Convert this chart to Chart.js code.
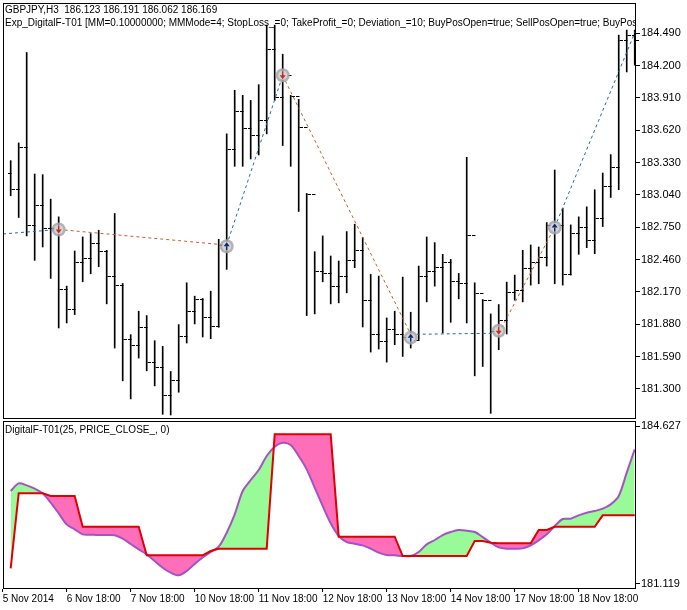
<!DOCTYPE html>
<html><head><meta charset="utf-8">
<script src="https://cdn.jsdelivr.net/npm/chart.js@4.4.1/dist/chart.umd.min.js"></script>
<style>
html,body{margin:0;padding:0;background:#fff;width:687px;height:610px;overflow:hidden}
#c1{position:absolute;left:0;top:0}
#c2{position:absolute;left:0;top:418px}
</style></head><body>
<canvas id="c1" width="687" height="419"></canvas>
<canvas id="c2" width="687" height="192"></canvas>
<script>
const opens=[183.239,183.092,183.470,182.771,182.948,182.741,182.741,182.192,182.021,182.438,
182.471,182.609,182.537,182.309,182.231,181.751,181.697,181.853,181.541,181.499,
181.247,181.382,181.772,181.997,182.108,181.946,181.868,182.591,183.452,183.788,
183.641,183.578,183.707,184.352,183.917,184.112,183.923,183.647,183.047,182.357,
182.342,182.222,182.312,182.453,182.543,182.102,181.796,181.733,181.841,181.793,
181.763,181.742,182.312,182.357,182.393,182.441,182.267,182.252,182.678,182.162,
182.096,181.817,181.922,182.171,182.186,182.381,182.441,182.486,182.771,182.771,
182.327,182.696,182.753,182.633,182.837,183.116,183.293,184.427,184.472];
const highs=[183.347,183.506,184.316,183.227,183.221,183.002,182.843,182.222,182.537,182.663,
182.693,182.723,182.543,182.873,182.246,181.787,181.997,181.958,181.733,181.682,
181.457,181.877,182.252,182.132,182.111,182.177,182.642,183.587,183.977,183.932,
183.887,184.028,184.562,184.562,184.301,183.932,183.896,183.053,182.531,182.672,
182.492,182.447,182.711,182.777,182.657,182.327,182.312,181.937,181.997,182.303,
181.988,182.402,182.663,182.612,182.507,182.462,182.336,183.377,182.252,182.102,
181.973,182.057,182.258,182.321,182.543,182.591,182.573,182.792,183.263,182.921,
182.771,182.843,182.933,183.086,183.236,183.401,184.472,184.517,184.517];
const lows=[183.032,182.837,182.672,182.453,182.573,182.291,181.847,181.892,181.967,182.261,
182.333,182.396,182.063,181.667,181.373,181.211,181.577,181.463,181.328,181.073,
181.067,181.271,181.712,181.883,181.766,181.751,181.853,182.372,183.296,183.296,
183.362,183.398,183.587,183.887,183.482,183.296,182.891,181.958,181.973,182.261,
182.063,182.072,182.162,182.387,181.856,181.631,181.658,181.541,181.697,181.592,
181.667,181.742,182.081,182.222,181.802,181.898,182.108,181.892,181.418,181.502,
181.082,181.652,181.793,182.096,182.081,182.231,182.243,182.402,182.243,182.231,
182.321,182.507,182.567,182.513,182.756,183.017,183.086,184.142,184.202];
const closes=[183.092,183.470,182.771,182.948,182.741,182.741,182.192,182.021,182.438,182.471,
182.609,182.537,182.309,182.231,181.751,181.697,181.853,181.541,181.499,181.247,
181.382,181.772,181.997,182.108,181.946,181.868,182.591,183.452,183.788,183.641,
183.578,183.707,184.352,183.917,184.112,183.923,183.647,183.047,182.357,182.342,
182.222,182.312,182.453,182.543,182.102,181.796,181.733,181.841,181.793,181.763,
181.742,182.312,182.357,182.393,182.441,182.267,182.252,182.678,182.162,182.096,
181.817,181.922,182.171,182.186,182.381,182.441,182.486,182.771,182.771,182.327,
182.696,182.753,182.633,182.837,183.116,183.293,184.427,184.472,184.427];
const digital=[183.181,183.351,183.307,183.233,183.129,182.921,182.684,182.439,182.328,182.217,
182.210,182.202,182.202,182.195,182.120,182.002,181.883,181.772,181.624,181.475,
181.364,181.305,181.401,181.557,181.705,181.824,181.942,182.254,182.662,183.181,
183.426,183.648,183.960,184.167,184.256,184.204,183.960,183.663,183.255,182.847,
182.462,182.180,182.046,182.009,181.972,181.898,181.809,181.757,181.750,181.735,
181.735,181.824,181.994,182.091,182.202,182.269,182.313,182.298,182.269,182.157,
182.031,181.928,181.898,181.898,181.905,181.972,182.083,182.217,182.402,182.558,
182.565,182.640,182.699,182.736,182.788,182.884,183.070,183.589,184.108];
const signal=[181.460,183.129,183.129,183.129,183.129,183.070,183.070,183.070,183.070,
182.387,182.387,182.387,182.387,182.387,182.387,182.387,182.387,
181.750,181.750,181.750,181.750,181.750,181.750,181.750,181.750,181.846,
181.898,181.898,181.898,181.898,181.898,181.898,181.898,
184.442,184.442,184.442,184.442,184.442,184.442,184.442,184.442,
182.165,182.165,182.165,182.165,182.165,182.165,182.165,182.165,
181.735,181.735,181.735,181.735,181.735,181.735,181.735,181.735,181.735,
182.068,182.068,182.031,182.017,182.017,182.017,182.017,182.017,
182.313,182.313,182.387,182.387,182.387,182.387,182.387,182.387,
182.640,182.640,182.640,182.640,182.640];
const sigBars=[6,27,34,50,61,68];
const sigPrices=[182.730,182.580,184.113,181.760,181.822,182.747];
const sigTypes=['sell','buy','sell','buy','sell','buy'];
const tradeX=[-0.96,6,27,34,50,61,68,78.16];
const tradeY=[182.69,182.73,182.59,184.11,181.79,181.80,182.75,184.52];
const tradeType=['buy','sell','buy','sell','buy','sell','buy'];
const priceTicks=[184.490,184.200,183.910,183.620,183.330,183.040,182.750,182.460,182.170,181.880,181.590,181.300];
const indTicks=[181.119,184.627];
const dateTickPos=[-1,7,15,23,31,39,47,55,63,71];
const dateLabels=['5 Nov 2014','6 Nov 18:00','7 Nov 18:00','10 Nov 18:00','11 Nov 18:00','12 Nov 18:00','13 Nov 18:00','14 Nov 18:00','17 Nov 18:00','18 Nov 18:00'];
const header1='GBPJPY,H3  186.123 186.191 186.062 186.169';
const header2='Exp_DigitalF-T01 [MM=0.10000000; MMMode=4; StopLoss_=0; TakeProfit_=0; Deviation_=10; BuyPosOpen=true; SellPosOpen=true; BuyPosClose=true; SellPosClose=true]';
const indTitle='DigitalF-T01(25, PRICE_CLOSE_, 0)';

const FAM='"Liberation Sans", Arial, sans-serif';
const FONT='10px '+FAM;
const XMIN=-0.96, XMAX=78.16;
const BLUE='#1f6f9a', RED='#d0582c';
function noPad(s){s.paddingTop=0;s.paddingBottom=0;s.paddingLeft=0;s.paddingRight=0;}

const frame={id:'frame',afterDraw(c){const a=c.chartArea,x=c.ctx;x.save();x.strokeStyle='#000';x.lineWidth=1;
x.strokeRect(Math.round(a.left)+0.5,Math.round(a.top)+0.5,Math.round(a.right-a.left)-1,Math.round(a.bottom-a.top)-1);x.restore();}};

const ohlc={id:'ohlc',afterDatasetsDraw(c){const x=c.ctx,sx=c.scales.x,sy=c.scales.y;x.save();x.strokeStyle='#000';x.lineWidth=1;
for(let i=0;i<closes.length;i++){const px=Math.round(sx.getPixelForValue(i))+0.5;
const yo=Math.round(sy.getPixelForValue(opens[i]))+0.5,yc=Math.round(sy.getPixelForValue(closes[i]))+0.5;
x.beginPath();x.moveTo(px-3.5,yo);x.lineTo(px,yo);x.moveTo(px,yc);x.lineTo(px+3.5,yc);x.stroke();}
for(let k=0;k<sigBars.length;k++){const px=sx.getPixelForValue(sigBars[k]),py=sy.getPixelForValue(sigPrices[k]);
x.beginPath();x.arc(px,py,7,0,Math.PI*2);x.fillStyle='rgba(165,165,170,0.85)';x.fill();
x.beginPath();x.arc(px,py,4.5,0,Math.PI*2);x.fillStyle='rgba(215,215,220,0.95)';x.fill();
const col=sigTypes[k]==='sell'?'#c0301c':'#0a2a66';x.fillStyle=col;x.strokeStyle=col;x.lineWidth=1.5;
x.beginPath();
if(sigTypes[k]==='sell'){x.moveTo(px-3,py);x.lineTo(px+3,py);x.lineTo(px,py+4);x.closePath();x.fill();x.beginPath();x.moveTo(px,py-4);x.lineTo(px,py+1);x.stroke();}
else{x.moveTo(px-3,py);x.lineTo(px+3,py);x.lineTo(px,py-4);x.closePath();x.fill();x.beginPath();x.moveTo(px,py);x.lineTo(px,py+4);x.stroke();}
}
x.restore();
x.save();x.fillStyle='#000';x.font=FONT;x.textBaseline='middle';x.textAlign='left';
const a=c.chartArea;x.beginPath();x.rect(a.left+1,a.top+1,a.right-a.left-2,40);x.clip();
x.fillText(header1,5,10);x.fillText(header2,5,23);x.restore();}};

const tradeSets=[];
for(let k=0;k<tradeType.length;k++){tradeSets.push({type:'line',data:[{x:tradeX[k],y:tradeY[k]},{x:tradeX[k+1],y:tradeY[k+1]}],
borderColor:tradeType[k]==='buy'?BLUE:RED,borderWidth:1,borderDash:[3,3],pointRadius:0,fill:false,order:0});}

new Chart(document.getElementById('c1'),{type:'bar',
data:{datasets:[{type:'bar',data:closes.map((v,i)=>({x:i,y:[lows[i],highs[i]]})),backgroundColor:'#000',barThickness:1,borderWidth:0,order:1},...tradeSets]},
options:{responsive:false,animation:false,events:[],
layout:{padding:{left:3,top:3,bottom:0,right:0}},
plugins:{legend:{display:false},tooltip:{enabled:false}},
scales:{x:{type:'linear',min:XMIN,max:XMAX,display:false,offset:false},
y:{position:'right',min:181.031,max:184.760,
afterBuildTicks(s){s.ticks=priceTicks.map(v=>({value:v}));},
afterFit(s){s.width=51;noPad(s);},
grid:{drawOnChartArea:false,drawTicks:true,tickLength:4,color:'#000'},border:{display:false},
ticks:{color:'#000',font:{family:FAM,size:11},padding:1,callback:v=>v.toFixed(3)}}}},
plugins:[frame,ohlc]});

const title={id:'title',afterDraw(c){const x=c.ctx;x.save();x.fillStyle='#000';x.font=FONT;x.textBaseline='middle';x.fillText(indTitle,5,12);x.restore();}};

new Chart(document.getElementById('c2'),{type:'line',
data:{datasets:[
{data:digital.map((v,i)=>({x:i,y:v})),borderColor:'#a452c8',borderWidth:2,pointRadius:0,tension:0.3,
 fill:{target:1,above:'rgb(152,251,152)',below:'rgb(255,110,185)'},order:1},
{data:signal.map((v,i)=>({x:i,y:v})),borderColor:'#e00000',borderWidth:2,pointRadius:0,tension:0,fill:false,order:0}]},
options:{responsive:false,animation:false,events:[],
layout:{padding:{left:3,top:3,right:0,bottom:0}},
plugins:{legend:{display:false},tooltip:{enabled:false}},
scales:{x:{type:'linear',min:XMIN,max:XMAX,
afterBuildTicks(s){s.ticks=dateTickPos.map(v=>({value:v}));},
afterFit(s){s.height=21;noPad(s);},
grid:{drawOnChartArea:false,drawTicks:true,tickLength:3,color:'#000'},border:{display:false},
ticks:{color:'#000',align:'start',maxRotation:0,autoSkip:false,padding:1,font:{family:FAM,size:10},
callback:(v)=>{const k=dateTickPos.indexOf(v);return k>=0?dateLabels[k]:'';}}},
y:{position:'right',min:181.001,max:184.739,
afterBuildTicks(s){s.ticks=indTicks.map(v=>({value:v}));},
afterFit(s){s.width=51;noPad(s);},
grid:{drawOnChartArea:false,drawTicks:true,tickLength:4,color:'#000'},border:{display:false},
ticks:{color:'#000',padding:1,font:{family:FAM,size:11},callback:v=>v.toFixed(3)}}}},
plugins:[frame,title]});
</script></body></html>
